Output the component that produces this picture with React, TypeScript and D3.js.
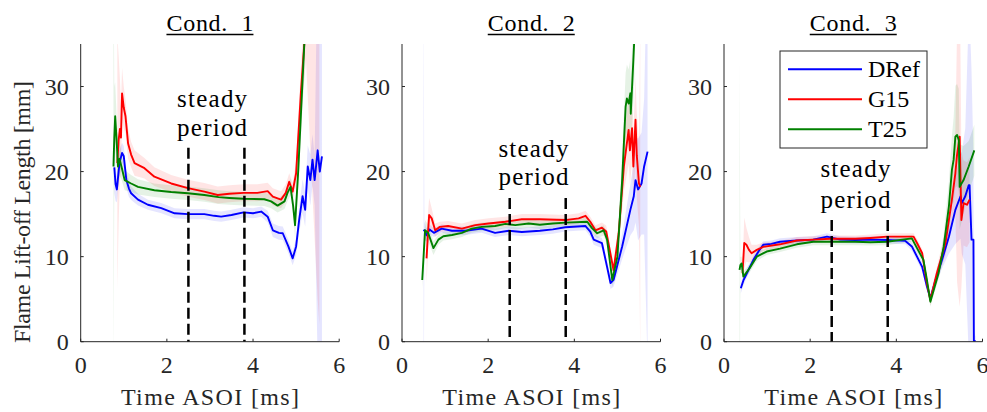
import React from 'react';
import * as d3 from 'd3';

type P = [number, number, number]; // [time ms, length mm, std band half-width]

const conditionTitles = ['Cond.\u00a0\u00a01', 'Cond.\u00a0\u00a02', 'Cond.\u00a0\u00a03'];
const seriesNames = ['DRef', 'G15', 'T25'];
const seriesColors = ['#0000ff', '#ff0000', '#008000'];
const xTicks = [0, 2, 4, 6];
const yTicks = [0, 10, 20, 30];
const xDomain = [0, 6];
const yDomain = [0, 35];
const steadyStart = 2.5;
const steadyEnd = 3.8;
const steadyLabelX = 3.05;
const steadyLineTop = [22.8, 16.9, 14.3];
const steadyWordY = [27.6, 21.7, 19.4];
const periodWordY = [24.2, 18.4, 15.7];

const c1DRef: P[] = [
  [0.78, 20.5, 3], [0.81, 18.5, 2], [0.84, 17.9, 1.5], [0.87, 19.5, 1.5], [0.9, 21.0, 1.5],
  [0.96, 22.2, 1.2], [1.0, 21.8, 1.2], [1.06, 19.0, 1], [1.12, 18.0, 1], [1.17, 17.45, 0.8],
  [1.33, 16.7, 0.7], [1.56, 16.1, 0.6], [1.87, 15.7, 0.6], [2.18, 15.1, 0.6], [2.49, 15.0, 0.6],
  [2.87, 15.0, 0.6], [3.1, 14.8, 0.6], [3.26, 14.7, 0.6], [3.5, 14.9, 0.6], [3.78, 15.2, 0.6],
  [4.0, 15.1, 0.6], [4.19, 15.3, 0.6], [4.34, 14.7, 0.7], [4.46, 13.1, 0.8], [4.6, 12.8, 0.8],
  [4.69, 12.75, 0.8], [4.82, 11.2, 0.8], [4.92, 9.8, 0.8], [5.0, 11.2, 1], [5.07, 14.3, 1.5],
  [5.15, 17.1, 2], [5.21, 15.5, 2], [5.27, 20.6, 2.5], [5.33, 19.0, 3], [5.38, 21.4, 3],
  [5.43, 19.0, 3], [5.5, 22.5, 25], [5.55, 20.0, 25], [5.6, 21.8, 25],
];
const c1G15: P[] = [
  [0.85, 21.0, 15], [0.88, 23.7, 10], [0.91, 25.0, 6], [0.935, 24.0, 4], [0.96, 29.2, 3],
  [1.0, 27.5, 2.5], [1.04, 26.5, 2], [1.1, 23.3, 1.8], [1.17, 22.0, 1.5], [1.25, 21.0, 1.5],
  [1.48, 20.4, 1.2], [1.71, 19.4, 1.1], [2.1, 18.6, 1.0], [2.49, 18.05, 1.0], [2.87, 17.65, 1.0],
  [3.18, 17.25, 1.0], [3.45, 17.4, 1.0], [3.78, 17.5, 1.0], [4.1, 17.5, 1.0], [4.34, 17.7, 1.0],
  [4.46, 17.05, 1.0], [4.65, 16.7, 1.0], [4.76, 17.5, 1.0], [4.84, 18.8, 1.0], [4.92, 17.65, 1.0],
  [5.0, 19.8, 1.5], [5.11, 29.2, 3], [5.23, 38, 5], [5.4, 45, 30], [5.5, 45, 40], [5.54, 42, 40],
];
const c1T25: P[] = [
  [0.76, 20.6, 25], [0.78, 24.0, 6], [0.8, 26.5, 4], [0.83, 24.0, 3], [0.865, 20.6, 2.5],
  [0.9, 21.5, 2], [0.95, 20.5, 1.5], [1.02, 19.0, 1.2], [1.17, 18.6, 1], [1.33, 18.2, 0.9],
  [1.71, 17.8, 0.8], [2.1, 17.6, 0.8], [2.49, 17.45, 0.8], [2.87, 17.25, 0.8], [3.2, 17.0, 0.8],
  [3.45, 16.9, 0.8], [3.78, 16.8, 0.8], [4.26, 16.75, 0.8], [4.42, 16.5, 0.8], [4.57, 16.0, 0.8],
  [4.73, 16.5, 0.9], [4.8, 17.5, 1], [4.87, 18.2, 1], [4.93, 16.0, 1], [4.975, 13.7, 1.5],
  [5.05, 20.2, 2], [5.15, 30.8, 3], [5.2, 36, 4],
];

const c2DRef: P[] = [
  [0.5, 13.0, 30], [0.52, 13.1, 1], [0.57, 12.5, 0.8], [0.64, 13.2, 0.6], [0.74, 12.8, 0.5],
  [0.92, 13.3, 0.5], [1.16, 13.05, 0.5], [1.47, 13.05, 0.5], [1.85, 13.3, 0.5], [2.16, 12.8, 0.5],
  [2.48, 13.05, 0.5], [2.78, 12.9, 0.5], [3.2, 13.05, 0.5], [3.5, 13.2, 0.5], [3.79, 13.45, 0.5],
  [4.26, 13.6, 0.5], [4.37, 12.95, 0.6], [4.45, 12.0, 0.6], [4.64, 11.6, 0.6], [4.76, 8.8, 0.7],
  [4.84, 6.9, 0.7], [4.91, 7.26, 0.8], [5.11, 11.2, 1.5], [5.3, 15.5, 3], [5.38, 17.1, 4],
  [5.42, 19.0, 5], [5.48, 17.9, 6], [5.56, 18.6, 6], [5.62, 20.6, 8], [5.7, 22.35, 25],
];
const c2G15: P[] = [
  [0.57, 9.8, 3], [0.6, 12.5, 2.5], [0.63, 14.9, 2], [0.69, 14.5, 1.2], [0.77, 13.1, 0.8],
  [0.88, 13.5, 0.6], [1.07, 13.6, 0.6], [1.39, 13.3, 0.6], [1.7, 13.7, 0.6], [2.01, 13.9, 0.6],
  [2.4, 14.1, 0.6], [2.78, 14.4, 0.6], [3.2, 14.4, 0.6], [3.79, 14.3, 0.6], [4.1, 14.5, 0.6],
  [4.26, 14.8, 0.6], [4.37, 14.1, 0.6], [4.49, 13.1, 0.6], [4.64, 13.4, 0.6], [4.74, 12.95, 0.7],
  [4.91, 8.4, 0.8], [5.03, 12.75, 1.5], [5.15, 20.6, 3], [5.26, 24.9, 4], [5.29, 22.5, 4],
  [5.34, 25.1, 4], [5.37, 20.6, 4], [5.42, 26.1, 5], [5.45, 21.9, 5], [5.5, 18.6, 5],
  [5.53, 18.2, 20],
];
const c2T25: P[] = [
  [0.47, 7.26, 1], [0.535, 13.1, 1.2], [0.61, 12.75, 1], [0.73, 11.0, 0.8], [0.845, 12.0, 0.6],
  [0.96, 12.4, 0.5], [1.16, 12.55, 0.5], [1.39, 12.8, 0.5], [1.62, 13.3, 0.5], [1.85, 13.5, 0.5],
  [2.16, 13.6, 0.5], [2.4, 13.85, 0.5], [2.63, 13.7, 0.5], [2.94, 13.9, 0.5], [3.2, 13.75, 0.5],
  [3.5, 13.9, 0.5], [3.79, 14.0, 0.5], [4.3, 14.1, 0.5], [4.41, 13.35, 0.6], [4.53, 12.75, 0.6],
  [4.68, 13.1, 0.6], [4.76, 12.0, 0.7], [4.88, 7.26, 0.8], [5.0, 10.0, 1.5], [5.11, 19.0, 3],
  [5.19, 27.6, 4], [5.22, 28.6, 4], [5.26, 28.0, 4], [5.3, 29.2, 4], [5.31, 26.8, 4],
  [5.37, 33.1, 5], [5.4, 36.5, 5],
];

const c3DRef: P[] = [
  [0.39, 6.28, 0.6], [0.45, 7.2, 0.6], [0.53, 8.05, 0.5], [0.68, 9.6, 0.5], [0.8, 10.6, 0.5],
  [0.91, 11.4, 0.4], [1.1, 11.5, 0.4], [1.3, 11.75, 0.4], [1.69, 11.9, 0.4], [2.07, 12.0, 0.4],
  [2.39, 12.35, 0.4], [2.7, 12.0, 0.4], [3.05, 11.95, 0.4], [3.4, 12.0, 0.4], [3.78, 11.95, 0.4],
  [4.21, 11.85, 0.4], [4.36, 11.2, 0.5], [4.48, 10.0, 0.5], [4.6, 8.8, 0.5], [4.71, 6.5, 0.5],
  [4.79, 5.1, 0.6], [4.91, 7.26, 0.7], [5.06, 9.6, 1], [5.22, 12.35, 2], [5.37, 15.5, 4],
  [5.49, 17.1, 5], [5.52, 16.3, 6], [5.6, 17.1, 8], [5.68, 18.4, 20], [5.7, 18.4, 20],
  [5.745, 12.0, 20], [5.79, 12.0, 10], [5.8, 0.1, 1], [5.84, 0.1, 0.5],
];
const c3G15: P[] = [
  [0.43, 8.05, 0.8], [0.47, 11.6, 3], [0.52, 11.4, 2], [0.58, 10.8, 1.5], [0.64, 10.4, 1],
  [0.76, 10.8, 0.6], [0.91, 11.15, 0.5], [1.3, 11.45, 0.4], [1.69, 11.9, 0.4], [2.07, 12.0, 0.4],
  [2.46, 12.1, 0.4], [3.05, 12.1, 0.4], [3.4, 12.2, 0.4], [3.78, 12.35, 0.4], [4.4, 12.35, 0.4],
  [4.48, 11.6, 0.5], [4.6, 10.4, 0.5], [4.71, 6.87, 0.5], [4.79, 4.9, 0.6], [4.94, 8.05, 0.7],
  [5.14, 11.6, 1.5], [5.29, 16.7, 3], [5.37, 19.8, 5], [5.41, 22.0, 15], [5.47, 24.1, 20],
  [5.51, 14.3, 8], [5.56, 16.3, 5], [5.64, 16.1, 5], [5.7, 16.7, 5],
];
const c3T25: P[] = [
  [0.36, 8.45, 25], [0.38, 9.0, 1], [0.41, 9.2, 0.8], [0.45, 7.65, 0.6], [0.59, 8.6, 0.5],
  [0.76, 10.0, 0.5], [0.99, 10.6, 0.4], [1.3, 10.95, 0.4], [1.69, 11.45, 0.4], [2.07, 11.75, 0.4],
  [2.46, 11.75, 0.4], [3.05, 11.75, 0.4], [3.4, 11.7, 0.4], [3.78, 11.75, 0.4], [4.36, 12.15, 0.4],
  [4.48, 11.0, 0.5], [4.63, 9.6, 0.5], [4.71, 7.26, 0.5], [4.79, 4.7, 0.6], [4.98, 8.05, 0.7],
  [5.1, 11.2, 1.5], [5.22, 15.9, 3], [5.29, 20.2, 4], [5.33, 21.4, 5], [5.37, 24.1, 6],
  [5.41, 24.3, 6], [5.45, 23.7, 6], [5.47, 18.2, 5], [5.56, 19.0, 4], [5.68, 20.6, 3],
  [5.81, 22.5, 3],
];

const panelSeries: P[][][] = [
  [c1DRef, c1G15, c1T25],
  [c2DRef, c2G15, c2T25],
  [c3DRef, c3G15, c3T25],
];

// layout
const W = 987;
const H = 412;
const plotTop = 44;
const plotBottom = 341.7;
const panelLefts = [80.7, 402, 724];
const panelWidth = 258.5;
const FONT = '"Liberation Serif", "DejaVu Serif", serif';
const AX = '#262626';

function Panel({ idx }: { idx: number }) {
  const left = panelLefts[idx];
  const x = d3.scaleLinear().domain(xDomain).range([left, left + panelWidth]);
  const y = d3.scaleLinear().domain(yDomain).range([plotBottom, plotTop]);
  const line = d3.line<P>().x((d) => x(d[0])).y((d) => y(d[1]));
  const area = d3
    .area<P>()
    .x((d) => x(d[0]))
    .y0((d) => y(d[1] - d[2]))
    .y1((d) => y(d[1] + d[2]));
  const clipId = `clip${idx}`;
  const series = panelSeries[idx];
  const cx = left + panelWidth / 2;
  return (
    <g>
      <defs>
        <clipPath id={clipId}>
          <rect x={left} y={plotTop} width={panelWidth} height={plotBottom - plotTop} />
        </clipPath>
      </defs>
      <g clipPath={`url(#${clipId})`}>
        {series.map((s, i) => (
          <path key={'b' + i} d={area(s) || ''} fill={seriesColors[i]} fillOpacity={0.1} stroke="none" />
        ))}
        {series.map((s, i) => (
          <path
            key={'l' + i}
            d={line(s) || ''}
            fill="none"
            stroke={seriesColors[i]}
            strokeWidth={1.9}
            strokeLinejoin="round"
          />
        ))}
      </g>
      {[steadyStart, steadyEnd].map((v) => (
        <line
          key={v}
          x1={x(v)}
          x2={x(v)}
          y1={y(steadyLineTop[idx])}
          y2={y(0)}
          stroke="#000"
          strokeWidth={2.5}
          strokeDasharray="11,5"
        />
      ))}
      <text x={x(steadyLabelX)} y={y(steadyWordY[idx])} textAnchor="middle" fontFamily={FONT} fontSize={25} fill="#000" textLength={70} lengthAdjust="spacing">
        steady
      </text>
      <text x={x(steadyLabelX)} y={y(periodWordY[idx])} textAnchor="middle" fontFamily={FONT} fontSize={25} fill="#000" textLength={70} lengthAdjust="spacing">
        period
      </text>
      {/* axes */}
      <line x1={left} x2={left + panelWidth} y1={plotBottom} y2={plotBottom} stroke={AX} strokeWidth={1} />
      <line x1={left} x2={left} y1={plotTop} y2={plotBottom} stroke={AX} strokeWidth={1} />
      {xTicks.map((t) => (
        <g key={'xt' + t}>
          <line x1={x(t)} x2={x(t)} y1={plotBottom} y2={plotBottom - 3} stroke={AX} strokeWidth={1} />
          <text x={x(t)} y={plotBottom + 31} textAnchor="middle" fontFamily={FONT} fontSize={24} fill={AX}>
            {t}
          </text>
        </g>
      ))}
      {yTicks.map((t) => (
        <g key={'yt' + t}>
          <line x1={left} x2={left + 3} y1={y(t)} y2={y(t)} stroke={AX} strokeWidth={1} />
          <text x={left - 12} y={y(t) + 8} textAnchor="end" fontFamily={FONT} fontSize={24} fill={AX}>
            {t}
          </text>
        </g>
      ))}
      <text x={cx} y={plotBottom + 63} textAnchor="middle" fontFamily={FONT} fontSize={24} fill={AX} textLength={178} lengthAdjust="spacing">
        Time ASOI [ms]
      </text>
      <text x={cx} y={31} textAnchor="middle" fontFamily={FONT} fontSize={24} fill="#000" textLength={87} lengthAdjust="spacing">
        {conditionTitles[idx]}
      </text>
      <line x1={cx - 43.5} x2={cx + 43.5} y1={34.5} y2={34.5} stroke="#000" strokeWidth={1.5} />
    </g>
  );
}

function Legend() {
  const lx = 780;
  const ly = 51;
  return (
    <g>
      <rect x={lx} y={ly} width={147} height={97} fill="#fff" stroke={AX} strokeWidth={1} />
      {seriesNames.map((n, i) => {
        const ry = 69.3 + i * 30;
        return (
          <g key={n}>
            <line x1={788} x2={862} y1={ry} y2={ry} stroke={seriesColors[i]} strokeWidth={1.9} />
            <text x={868} y={ry + 8} fontFamily={FONT} fontSize={24} fill="#000">
              {n}
            </text>
          </g>
        );
      })}
    </g>
  );
}

export default function App() {
  return (
    <svg
      width={W}
      height={H}
      viewBox={`0 0 ${W} ${H}`}
      style={{ position: 'absolute', left: 0, top: 0, background: '#fff' }}
    >
      <rect x={0} y={0} width={W} height={H} fill="#fff" />
      {[0, 1, 2].map((i) => (
        <Panel key={i} idx={i} />
      ))}
      <text
        transform={`translate(30, 212) rotate(-90)`}
        textAnchor="middle"
        fontFamily={FONT}
        fontSize={24}
        fill={AX}
        textLength={262}
        lengthAdjust="spacing"
      >
        Flame Lift-off Length [mm]
      </text>
      <Legend />
    </svg>
  );
}
